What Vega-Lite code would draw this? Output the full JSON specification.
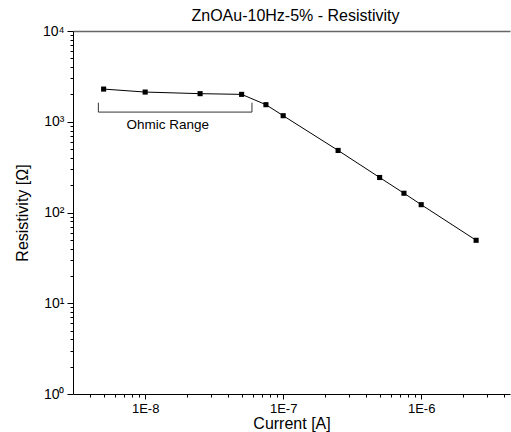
{
  "$schema": "https://vega.github.io/schema/vega-lite/v6.json",
  "width": 437,
  "height": 363,
  "autosize": {"type": "none"},
  "padding": {"left": 73, "top": 31, "right": 1, "bottom": 38},
  "background": "white",
  "config": {
    "view": {"stroke": null},
    "font": "Liberation Sans",
    "axis": {"labelFont": "Liberation Sans", "titleFont": "Liberation Sans", "labelColor": "black", "titleColor": "black", "titleFontWeight": "normal", "domainColor": "black", "tickColor": "black", "grid": false}
  },
  "title": {"text": "ZnOAu-10Hz-5% - Resistivity", "fontSize": 16, "fontWeight": "normal", "font": "Liberation Sans", "color": "black", "offset": 0, "dx": 4},
  "datasets": {
    "main": [
      {"current": 5e-9, "resistivity": 2291},
      {"current": 1e-8, "resistivity": 2124},
      {"current": 2.5e-8, "resistivity": 2039},
      {"current": 5e-8, "resistivity": 2003},
      {"current": 7.5e-8, "resistivity": 1542},
      {"current": 1e-7, "resistivity": 1166},
      {"current": 2.5e-7, "resistivity": 483},
      {"current": 5e-7, "resistivity": 243},
      {"current": 7.5e-7, "resistivity": 163},
      {"current": 1e-6, "resistivity": 122},
      {"current": 2.5e-6, "resistivity": 49.4}
    ],
    "bracketH": [{"x1": 4.58e-9, "x2": 5.94e-8, "y": 1278}],
    "bracketV": [
      {"x": 4.58e-9, "y1": 1278, "y2": 1622},
      {"x": 5.94e-8, "y1": 1278, "y2": 1622}
    ],
    "label": [{"x": 1.46e-8, "y": 838, "text": "Ohmic Range"}]
  },
  "resolve": {"axis": {"x": "independent", "y": "independent"}},
  "layer": [
    {
      "data": {"name": "main"},
      "mark": {"type": "line", "color": "black", "strokeWidth": 1},
      "encoding": {
        "x": {"field": "current", "type": "quantitative",
          "scale": {"type": "log", "domain": [3e-9, 4.4e-6], "nice": false},
          "axis": {"orient": "bottom", "values": [1e-8, 1e-7, 1e-6], "labelExpr": "'1E' + round(log(datum.value)/LN10)", "tickSize": 5, "labelFontSize": 13, "labelPadding": 3, "title": "Current [A]", "titleFontSize": 16, "titlePadding": 0, "domainWidth": 1}},
        "y": {"field": "resistivity", "type": "quantitative",
          "scale": {"type": "log", "domain": [1, 10000], "nice": false},
          "axis": {"orient": "left", "values": [1, 10, 100, 1000, 10000], "labelExpr": "'10' + ['⁰','¹','²','³','⁴'][round(log(datum.value)/LN10)]", "tickSize": 6, "labelFontSize": 14, "labelPadding": 3, "title": "Resistivity [Ω]", "titleFontSize": 16, "titlePadding": 12, "domainWidth": 1}}
      }
    },
    {
      "data": {"name": "main"},
      "mark": {"type": "point", "shape": "square", "filled": true, "color": "black", "size": 26, "opacity": 1},
      "encoding": {
        "x": {"field": "current", "type": "quantitative",
          "scale": {"type": "log", "domain": [3e-9, 4.4e-6], "nice": false},
          "axis": {"orient": "bottom", "values": [4e-9, 5e-9, 6e-9, 7e-9, 8e-9, 9e-9, 2e-8, 3e-8, 4e-8, 5e-8, 6e-8, 7e-8, 8e-8, 9e-8, 2e-7, 3e-7, 4e-7, 5e-7, 6e-7, 7e-7, 8e-7, 9e-7, 2e-6, 3e-6, 4e-6], "labels": false, "domain": false, "tickSize": 3, "title": null}},
        "y": {"field": "resistivity", "type": "quantitative",
          "scale": {"type": "log", "domain": [1, 10000], "nice": false},
          "axis": {"orient": "left", "values": [2, 3, 4, 5, 6, 7, 8, 9, 20, 30, 40, 50, 60, 70, 80, 90, 200, 300, 400, 500, 600, 700, 800, 900, 2000, 3000, 4000, 5000, 6000, 7000, 8000, 9000], "labels": false, "domain": false, "tickSize": 3, "title": null}}
      }
    },
    {
      "data": {"name": "main"},
      "mark": {"type": "point", "opacity": 0},
      "encoding": {
        "x": {"field": "current", "type": "quantitative",
          "scale": {"type": "log", "domain": [3e-9, 4.4e-6], "nice": false},
          "axis": {"orient": "top", "labels": false, "ticks": false, "domainColor": "#666666", "domainWidth": 1.5, "title": null}},
        "y": {"field": "resistivity", "type": "quantitative",
          "scale": {"type": "log", "domain": [1, 10000], "nice": false}, "axis": null}
      }
    },
    {
      "data": {"name": "bracketH"},
      "mark": {"type": "rule", "color": "#333333", "strokeWidth": 1},
      "encoding": {
        "x": {"field": "x1", "type": "quantitative", "scale": {"type": "log", "domain": [3e-9, 4.4e-6], "nice": false}, "axis": null},
        "x2": {"field": "x2"},
        "y": {"field": "y", "type": "quantitative", "scale": {"type": "log", "domain": [1, 10000], "nice": false}, "axis": null}
      }
    },
    {
      "data": {"name": "bracketV"},
      "mark": {"type": "rule", "color": "#333333", "strokeWidth": 1},
      "encoding": {
        "x": {"field": "x", "type": "quantitative", "scale": {"type": "log", "domain": [3e-9, 4.4e-6], "nice": false}, "axis": null},
        "y": {"field": "y1", "type": "quantitative", "scale": {"type": "log", "domain": [1, 10000], "nice": false}, "axis": null},
        "y2": {"field": "y2"}
      }
    },
    {
      "data": {"name": "label"},
      "mark": {"type": "text", "font": "Liberation Sans", "fontSize": 13.5, "color": "black", "align": "center", "baseline": "alphabetic"},
      "encoding": {
        "x": {"field": "x", "type": "quantitative", "scale": {"type": "log", "domain": [3e-9, 4.4e-6], "nice": false}, "axis": null},
        "y": {"field": "y", "type": "quantitative", "scale": {"type": "log", "domain": [1, 10000], "nice": false}, "axis": null},
        "text": {"field": "text"}
      }
    }
  ]
}
